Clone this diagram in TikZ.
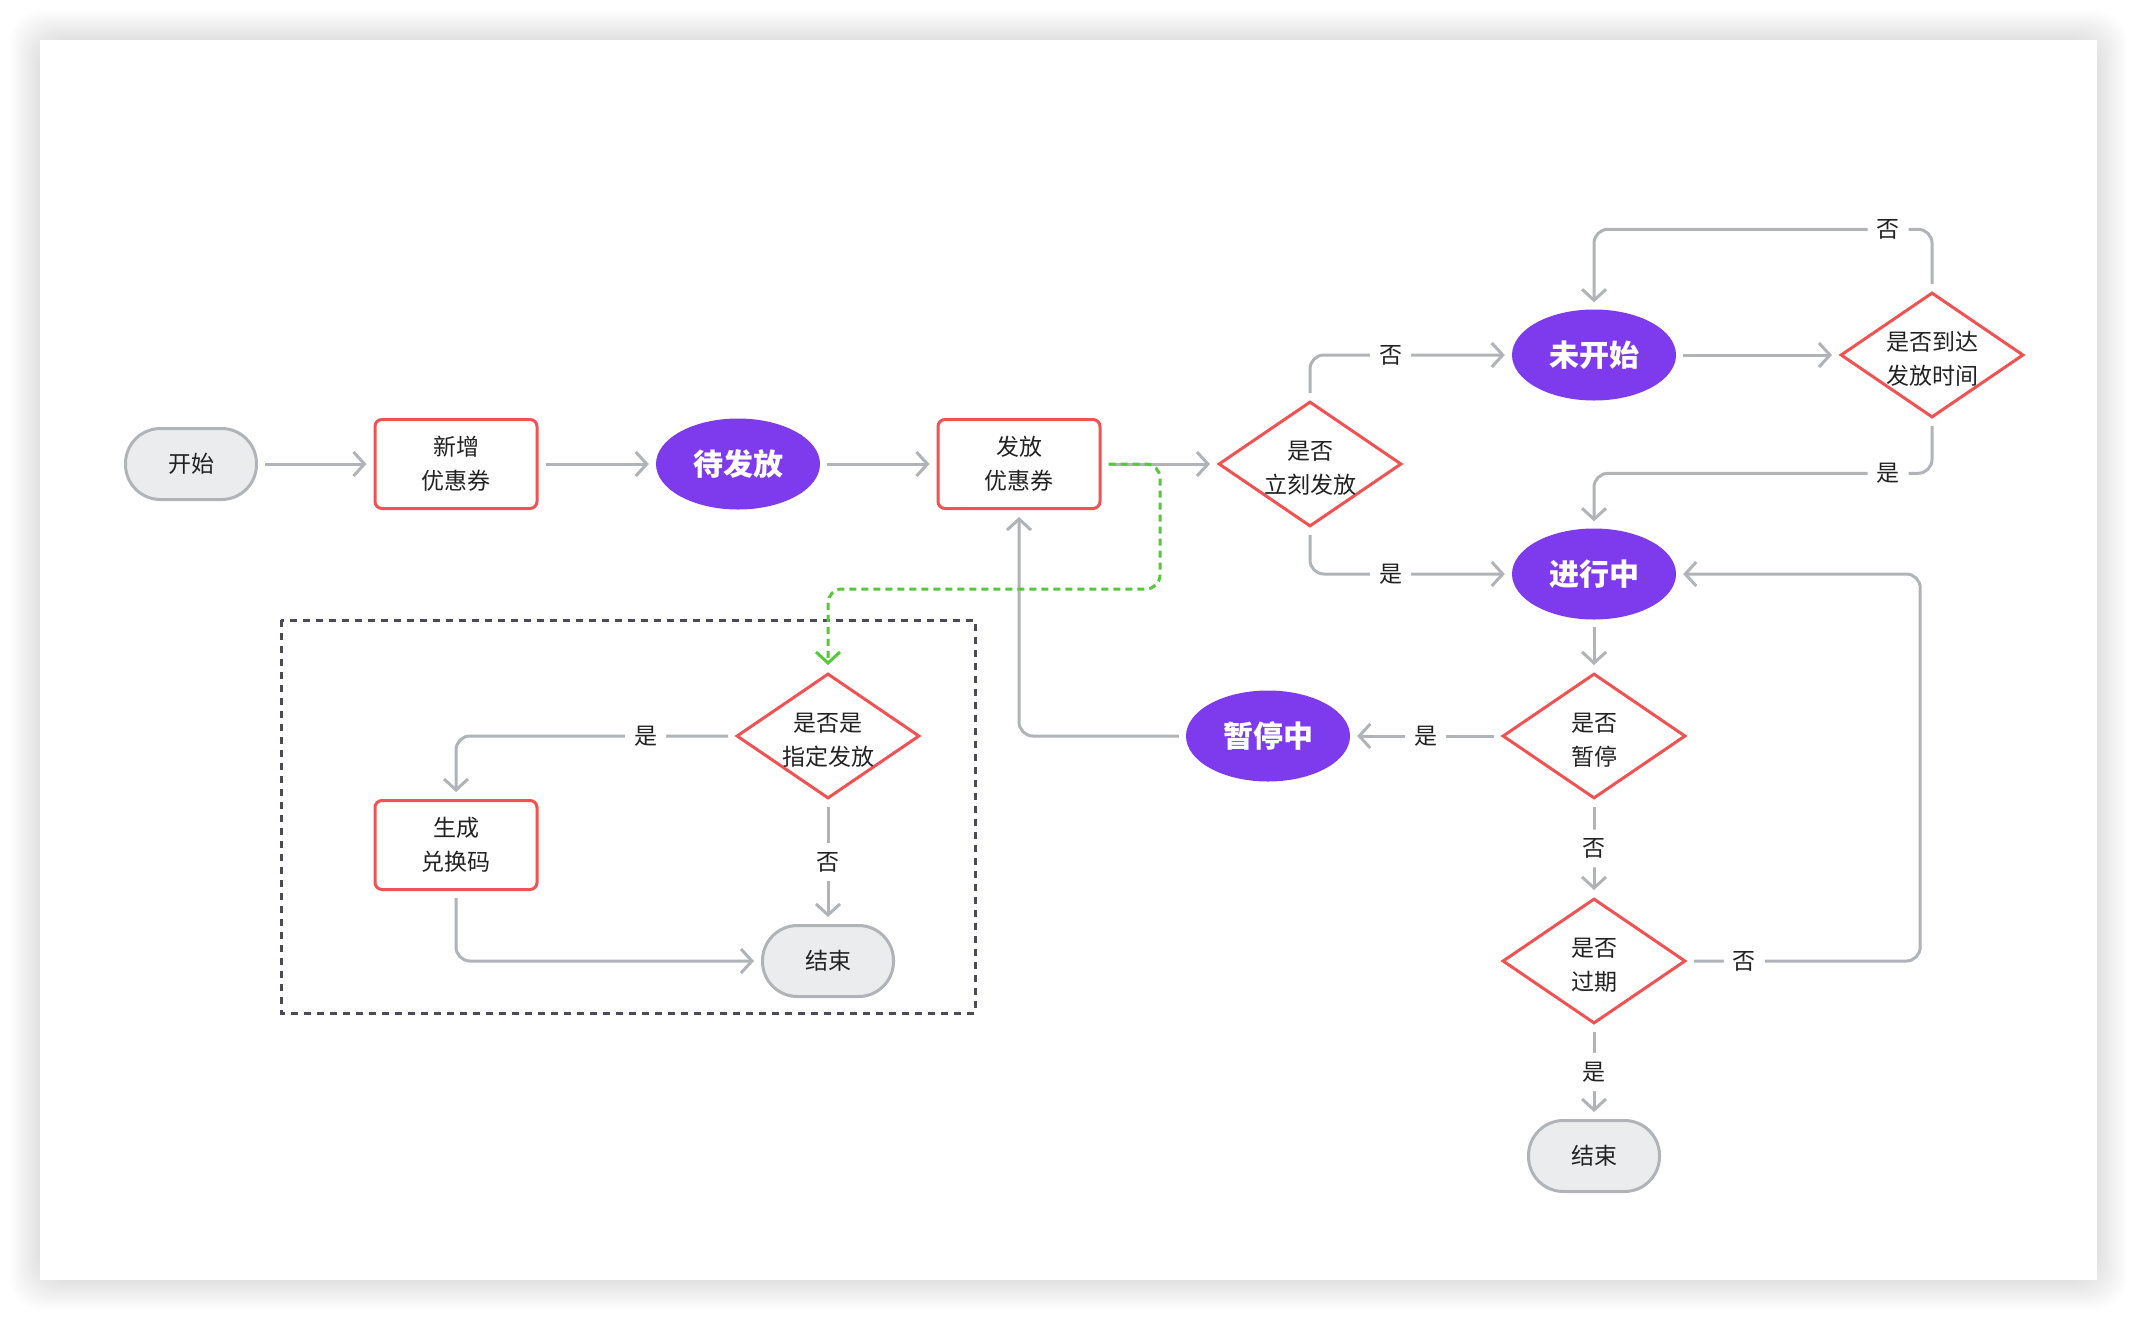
\documentclass[tikz,border=0pt]{standalone}
\usepackage{fontspec}
\setmainfont{Noto Sans CJK SC}
\usepackage{tikz}
\usetikzlibrary{arrows.meta}
\usetikzlibrary{shapes.geometric}

\definecolor{cardred}{HTML}{F25252}
\definecolor{statepurple}{HTML}{7E3BEE}
\definecolor{linegray}{HTML}{B0B3B8}
\definecolor{termgray}{HTML}{EBECEE}
\definecolor{flowgreen}{HTML}{55C93A}
\definecolor{boxgray}{HTML}{4B4B57}
\definecolor{textblack}{HTML}{222222}

\tikzset{
  term/.style={draw=linegray, fill=termgray, line width=3pt, rounded corners=35pt,
    minimum width=131pt, minimum height=71pt, inner sep=0pt, text=textblack,
    font=\fontsize{23pt}{34pt}\selectfont},
  proc/.style={draw=cardred, fill=white, line width=3pt, rounded corners=7pt,
    minimum width=162pt, minimum height=89pt, inner sep=0pt, align=center, text=textblack,
    font=\fontsize{23pt}{34pt}\selectfont},
  state/.style={ellipse, fill=statepurple, minimum width=164pt, minimum height=91pt,
    inner sep=0pt, text=white, font=\fontsize{30pt}{30pt}\selectfont\bfseries},
  decide/.style={diamond, draw=cardred, fill=white, line width=3pt,
    minimum width=183pt, minimum height=125pt, inner sep=0pt},
  dtext/.style={align=center, text=textblack, inner sep=0pt, yshift=-4pt,
    font=\fontsize{23pt}{34pt}\selectfont},
  flow/.style={draw=linegray, line width=3pt, rounded corners=14pt,
    shorten <=7pt, shorten >=7pt, -{Straight Barb[length=11pt,width=24pt]}},
  greenflow/.style={flow, draw=flowgreen, dash pattern=on 7pt off 5pt},
  yesno/.style={fill=white, inner sep=9pt, text=textblack, font=\fontsize{23pt}{23pt}\selectfont},
  groupbox/.style={draw=boxgray, line width=3pt, dash pattern=on 7pt off 6pt}
}

\begin{document}
\begin{tikzpicture}[x=1pt, y=-1pt]
  \fill[white] (0,0) rectangle (2138,1320);
  \useasboundingbox (0,0) rectangle (2138,1320);
  \foreach \s in {1,...,30}
    \fill[black, opacity=0.0035, rounded corners=30pt] ({40-\s},{40-\s}) rectangle ({2097+\s},{1280+\s});
  \fill[white] (40,40) rectangle (2097,1280);

  \draw[groupbox] (281,620) rectangle (975,1013);

  \node[term] (start) at (191,464) {开始};
  \node[proc] (newc) at (456,464) {新增\\优惠券};
  \node[state] (pend) at (738,464) {待发放};
  \node[proc] (issue) at (1019,464) {发放\\优惠券};
  \node[decide, label={[dtext]center:是否\\立刻发放}] (now) at (1310,464) {};
  \node[state] (wait) at (1594,355) {未开始};
  \node[decide, label={[dtext]center:是否到达\\发放时间}] (time) at (1932,355) {};
  \node[state] (run) at (1594,574) {进行中};
  \node[decide, label={[dtext]center:是否\\暂停}] (pause) at (1594,736) {};
  \node[state] (paused) at (1268,736) {暂停中};
  \node[decide, label={[dtext]center:是否\\过期}] (expire) at (1594,961) {};
  \node[term] (endr) at (1594,1156) {结束};
  \node[decide, label={[dtext]center:是否是\\指定发放}] (assign) at (828,736) {};
  \node[proc] (code) at (456,845) {生成\\兑换码};
  \node[term] (endl) at (828,961) {结束};

  \draw[flow] (start) -- (newc);
  \draw[flow] (newc) -- (pend);
  \draw[flow] (pend) -- (issue);
  \draw[flow] (issue) -- (now);
  \draw[flow] (now.north) |- node[yesno, pos=0.7] {否} (wait);
  \draw[flow] (now.south) |- node[yesno, pos=0.7] {是} (run);
  \draw[flow] (wait) -- (time);
  \draw[flow] (time.north) |- ([yshift=80pt]wait.north) node[yesno, pos=0.565] {否} -- (wait.north);
  \draw[flow] (time.south) |- ([yshift=55pt]run.north) node[yesno, pos=0.565] {是} -- (run.north);
  \draw[flow] (run) -- (pause);
  \draw[flow] (pause) -- node[yesno] {是} (paused);
  \draw[flow] (paused) -| (issue);
  \draw[flow] (pause) -- node[yesno] {否} (expire);
  \draw[flow] (expire.east) -| ([xshift=244pt]run.east) node[yesno, pos=0.123] {否} -- (run.east);
  \draw[flow] (expire) -- node[yesno] {是} (endr);
  \draw[flow] (assign) -| node[yesno, pos=0.16] {是} (code);
  \draw[flow] (assign) -- node[yesno] {否} (endl);
  \draw[flow] (code) |- (endl);

  \coordinate (gbend) at (1160,589);
  \draw[greenflow] (issue.east) -| (gbend) -| (assign.north);
\end{tikzpicture}
\end{document}
